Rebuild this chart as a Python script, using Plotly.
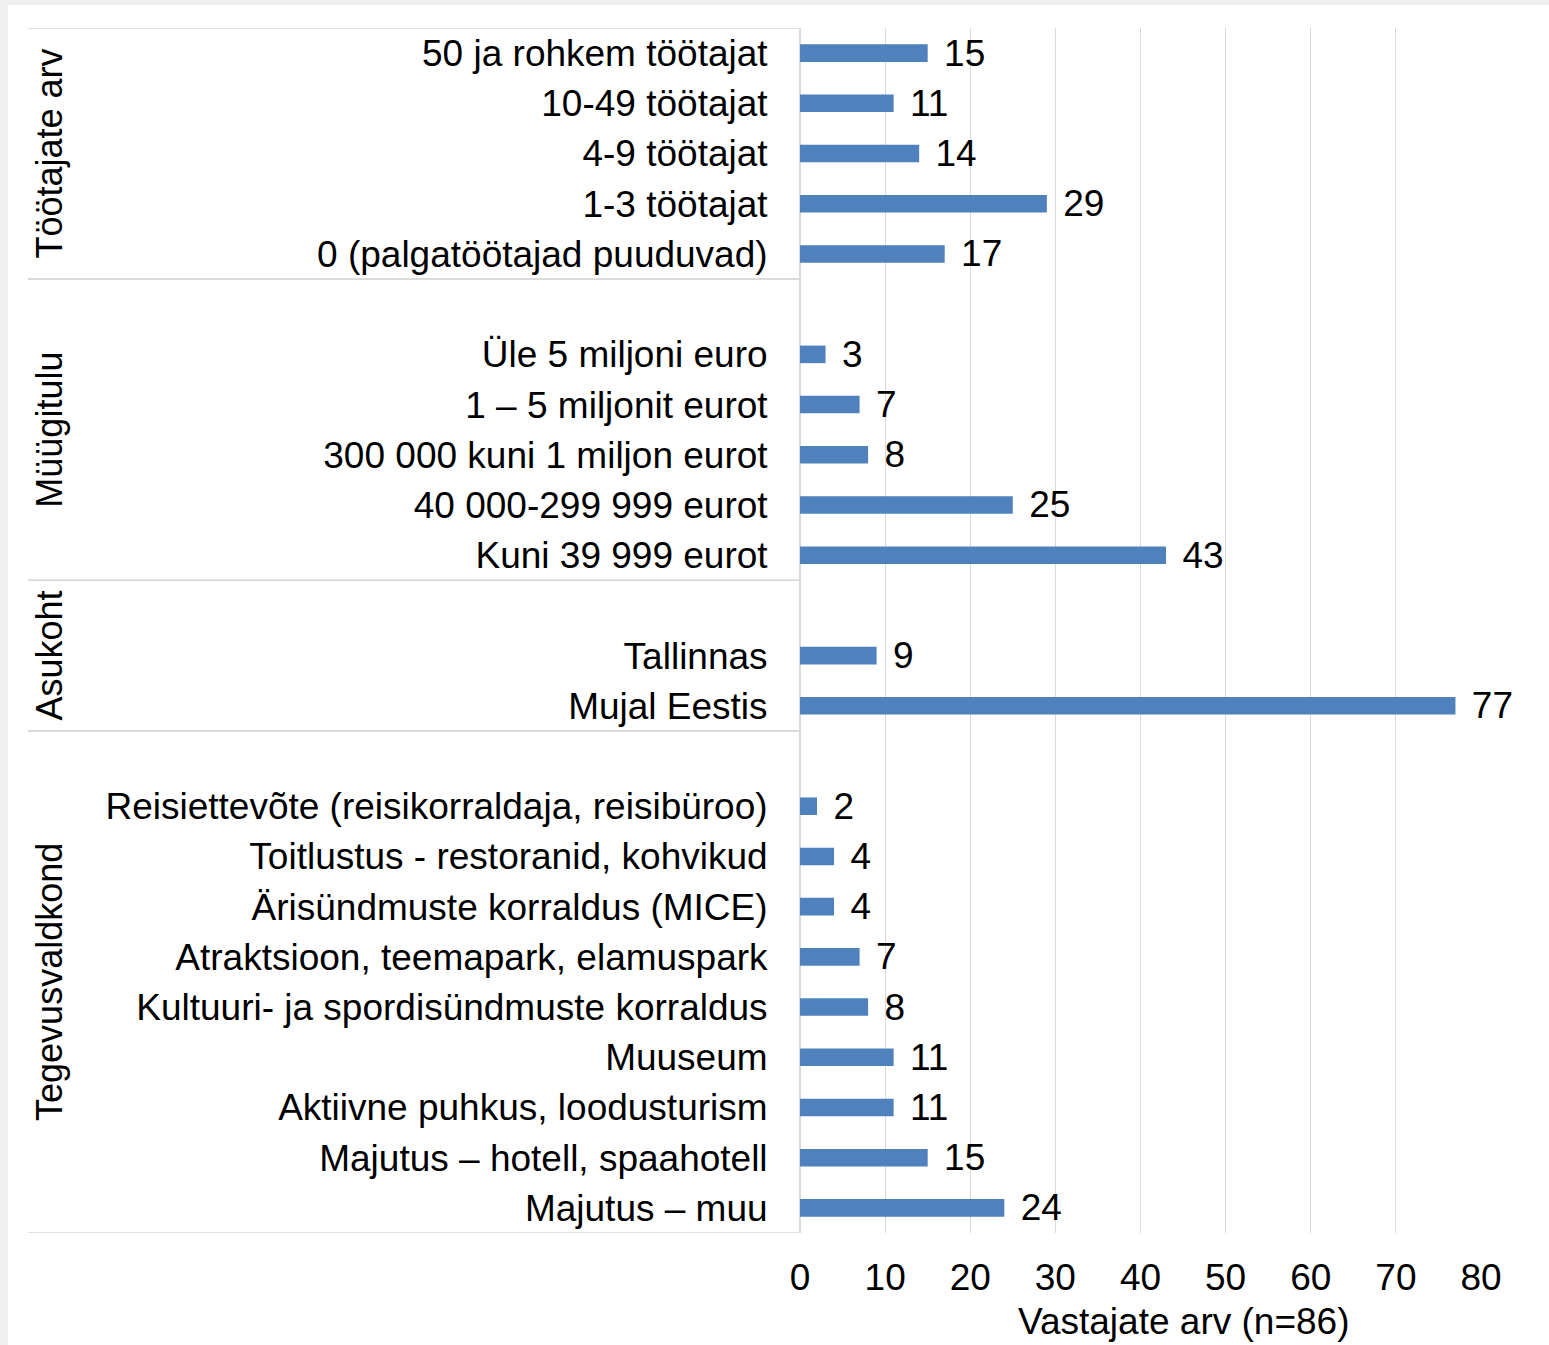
import plotly.graph_objects as go

# ---- data ----
group_names = ["Töötajate arv", "Müügitulu", "Asukoht", "Tegevusvaldkond"]

tootajad_cats = ["50 ja rohkem töötajat", "10-49 töötajat", "4-9 töötajat",
                 "1-3 töötajat", "0 (palgatöötajad puuduvad)"]
tootajad_vals = [15, 11, 14, 29, 17]

myygitulu_cats = ["Üle 5 miljoni euro", "1 – 5 miljonit eurot", "300 000 kuni 1 miljon eurot",
                  "40 000-299 999 eurot", "Kuni 39 999 eurot"]
myygitulu_vals = [3, 7, 8, 25, 43]

asukoht_cats = ["Tallinnas", "Mujal Eestis"]
asukoht_vals = [9, 77]

tegevus_cats = ["Reisiettevõte (reisikorraldaja, reisibüroo)", "Toitlustus - restoranid, kohvikud",
                "Ärisündmuste korraldus (MICE)", "Atraktsioon, teemapark, elamuspark",
                "Kultuuri- ja spordisündmuste korraldus", "Muuseum",
                "Aktiivne puhkus, loodusturism", "Majutus – hotell, spaahotell", "Majutus – muu"]
tegevus_vals = [2, 4, 4, 7, 8, 11, 11, 15, 24]

x_ticks = [0, 10, 20, 30, 40, 50, 60, 70, 80]
x_title = "Vastajate arv (n=86)"

groups = [
    (group_names[0], tootajad_cats, tootajad_vals),
    (group_names[1], myygitulu_cats, myygitulu_vals),
    (group_names[2], asukoht_cats, asukoht_vals),
    (group_names[3], tegevus_cats, tegevus_vals),
]

# ---- build rows (blank spacer row before groups 2..4) ----
pos, labs, vals, spans = [], [], [], []
row = 0
for gi, (name, cats, vs) in enumerate(groups):
    start = row
    if gi > 0:
        row += 1
    for c, v in zip(cats, vs):
        pos.append(row)
        labs.append(c)
        vals.append(v)
        row += 1
    spans.append((name, start, row - 1))
n_rows = row

FONT = "Liberation Sans, Arial, sans-serif"
FS = 37
BLUE = "#4f81bd"
GRID = "#d9d9d9"

fig = go.Figure(go.Bar(
    x=vals, y=pos, orientation="h", width=0.35,
    marker=dict(color=BLUE, line=dict(width=0)),
    text=vals, texttemplate="\u00a0\u200a%{x}", textposition="outside",
    textfont=dict(size=FS, color="#000000", family=FONT),
    constraintext="none", cliponaxis=False,
))

W, H = 1549, 1345
L, R, T, B = 800, 68, 28, 112
pw = W - L - R
ph = H - T - B

def px_x(px):
    return (px - L) / pw

def px_y(py):
    return (H - B - py) / ph

shapes = [
    # outer frame background
    dict(type="rect", xref="paper", yref="paper", layer="below",
         x0=px_x(8), x1=px_x(W + 5), y0=px_y(H + 5), y1=px_y(5),
         fillcolor="white", line=dict(width=0)),
]
for name, s, e in spans:
    for b in (s - 0.5, e + 0.5):
        shapes.append(dict(type="line", xref="paper", yref="y",
                           x0=px_x(28), x1=0, y0=b, y1=b,
                           line=dict(color=GRID, width=1.5)))

annotations = []
for name, s, e in spans:
    annotations.append(dict(
        text=name, xref="paper", yref="y", x=px_x(50), y=(s + e) / 2,
        textangle=-90, showarrow=False, xanchor="center", yanchor="middle",
        font=dict(size=36, color="#000000", family=FONT)))
annotations.append(dict(
    text=x_title, xref="paper", yref="paper", x=px_x(1183), y=px_y(1321),
    showarrow=False, xanchor="center", yanchor="middle",
    font=dict(size=FS, color="#000000", family=FONT)))

fig.update_layout(
    width=W, height=H,
    margin=dict(l=L, r=R, t=T, b=B, pad=0),
    paper_bgcolor="#f0f0f0", plot_bgcolor="white",
    showlegend=False,
    font=dict(family=FONT, size=FS, color="#000000"),
    shapes=shapes, annotations=annotations,
    xaxis=dict(range=[0, 80], tickvals=x_ticks, showgrid=True, gridcolor=GRID, gridwidth=1.2,
               zeroline=True, zerolinecolor=GRID, zerolinewidth=1.5, showline=False,
               ticks="outside", ticklen=12, tickcolor="rgba(0,0,0,0)",
               tickfont=dict(size=FS, color="#000000", family=FONT), fixedrange=True),
    yaxis=dict(range=[n_rows - 0.5, -0.5], tickvals=pos, ticktext=labs,
               showgrid=False, zeroline=False, showline=False,
               ticks="outside", ticklen=24, tickcolor="rgba(0,0,0,0)",
               tickfont=dict(size=FS, color="#000000", family=FONT), fixedrange=True),
)

fig.write_html("out.html", config={"displayModeBar": False},
               post_script="document.body.style.margin='0';document.body.style.overflow='hidden';")
